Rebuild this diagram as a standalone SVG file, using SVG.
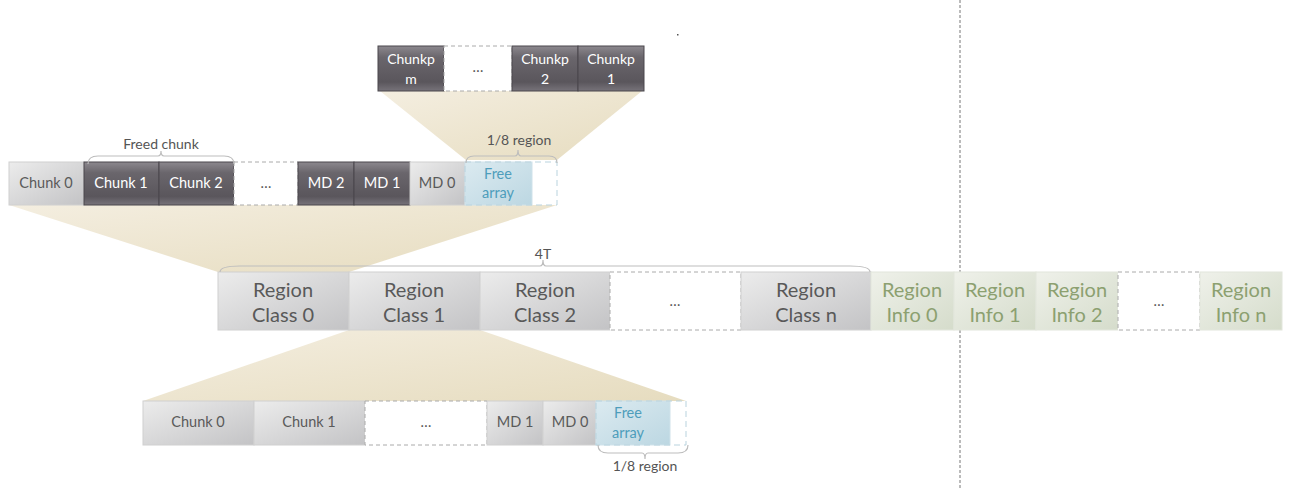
<svg xmlns="http://www.w3.org/2000/svg" width="1305" height="489" viewBox="0 0 1305 489">
<defs>
<linearGradient id="dark" x1="0" y1="0" x2="0" y2="1">
<stop offset="0" stop-color="#8c888e"/><stop offset="0.25" stop-color="#6a666c"/><stop offset="0.8" stop-color="#5a565c"/><stop offset="1" stop-color="#77737a"/>
</linearGradient>
<linearGradient id="light" x1="0" y1="0" x2="1" y2="1">
<stop offset="0" stop-color="#ececec"/><stop offset="1" stop-color="#c3c3c5"/>
</linearGradient>
<linearGradient id="green" x1="0" y1="0" x2="1" y2="1">
<stop offset="0" stop-color="#eff1ea"/><stop offset="1" stop-color="#d5dccb"/>
</linearGradient>
<linearGradient id="blue" x1="0" y1="0" x2="1" y2="1">
<stop offset="0" stop-color="#dbeaf0"/><stop offset="1" stop-color="#bcd7e2"/>
</linearGradient>
<linearGradient id="funnel" x1="0" y1="0" x2="1" y2="1">
<stop offset="0" stop-color="#f4eee0"/><stop offset="1" stop-color="#e6dcbf"/>
</linearGradient>
<style>
text{font-family:Lato,"Open Sans","Liberation Sans",sans-serif;text-anchor:middle}
.d{fill:url(#dark);stroke:#4a474c;stroke-width:1}
.l{fill:url(#light);stroke:#d0d0d0;stroke-width:1}
.g{fill:url(#green);stroke:#e2e6dc;stroke-width:1}
.b{fill:url(#blue);stroke:#cfe2ea;stroke-width:1}
.e{fill:#fff;stroke:#aaaaaa;stroke-width:1;stroke-dasharray:4 3}
.eb{fill:none;stroke:#b9d3de;stroke-width:1;stroke-dasharray:6 4}
.tw{fill:#ffffff;font-size:14px}
.tg{fill:#5a5a5a;font-size:14.5px}
.tb{fill:#4e9dbb;font-size:14.5px}
.big{fill:#595959;font-size:20px}
.bigg{fill:#8ca070;font-size:20px}
.lab{fill:#555555;font-size:14px}
.br{fill:none;stroke:#bdbdbd;stroke-width:1.2}
.fun{fill:url(#funnel)}
</style>
</defs>

<g id="funnels">
<polygon class="fun" points="380,91 642,91 557,160 466,160"/>
<polygon class="fun" points="9,205 557,205 349,272 218,272"/>
<polygon class="fun" points="349,330 480,330 686,401 143,401"/>
</g>

<line x1="960" y1="0" x2="960" y2="489" stroke="#777" stroke-width="1" stroke-dasharray="3 2"/>
<rect x="677" y="34" width="1.5" height="1.5" fill="#555"/>

<g id="top-row">
<g id="chunkp-m"><rect class="d" x="378" y="46" width="66" height="45"/><text class="tw" x="411" y="64">Chunkp</text><text class="tw" x="411" y="84">m</text></g>
<g id="top-dots"><rect class="e" x="444" y="46" width="68" height="45"/><text class="tg" x="478" y="72">…</text></g>
<g id="chunkp-2"><rect class="d" x="512" y="46" width="66" height="45"/><text class="tw" x="545" y="64">Chunkp</text><text class="tw" x="545" y="84">2</text></g>
<g id="chunkp-1"><rect class="d" x="578" y="46" width="66" height="45"/><text class="tw" x="611" y="64">Chunkp</text><text class="tw" x="611" y="84">1</text></g>
</g>

<g id="mid-row">
<g id="r2-chunk0"><rect class="l" x="9" y="162" width="75" height="43"/><text class="tg" x="46" y="188">Chunk 0</text></g>
<g id="r2-chunk1"><rect class="d" x="84" y="162" width="75" height="43"/><text class="tw" x="121" y="188" style="font-size:14.5px">Chunk 1</text></g>
<g id="r2-chunk2"><rect class="d" x="159" y="162" width="75" height="43"/><text class="tw" x="196" y="188" style="font-size:14.5px">Chunk 2</text></g>
<g id="r2-dots"><rect class="e" x="234" y="162" width="64" height="43"/><text class="tg" x="266" y="188">…</text></g>
<g id="r2-md2"><rect class="d" x="298" y="162" width="56" height="43"/><text class="tw" x="326" y="188" style="font-size:14.5px">MD 2</text></g>
<g id="r2-md1"><rect class="d" x="354" y="162" width="56" height="43"/><text class="tw" x="382" y="188" style="font-size:14.5px">MD 1</text></g>
<g id="r2-md0"><rect class="l" x="410" y="162" width="55" height="43"/><text class="tg" x="437" y="188">MD 0</text></g>
<g id="r2-free"><rect class="b" x="465" y="162" width="67" height="43"/><rect class="eb" x="465" y="162" width="92" height="43"/><text class="tb" x="498" y="179">Free</text><text class="tb" x="498" y="198">array</text></g>
</g>

<g id="main-row">
<g id="rc0"><rect class="l" x="218" y="272" width="131" height="58"/><text class="big" x="283" y="297">Region</text><text class="big" x="283" y="322">Class 0</text></g>
<g id="rc1"><rect class="l" x="349" y="272" width="131" height="58"/><text class="big" x="414" y="297">Region</text><text class="big" x="414" y="322">Class 1</text></g>
<g id="rc2"><rect class="l" x="480" y="272" width="130" height="58"/><text class="big" x="545" y="297">Region</text><text class="big" x="545" y="322">Class 2</text></g>
<g id="rc-dots"><rect class="e" x="610" y="272" width="131" height="58"/><text class="tg" x="675" y="306">…</text></g>
<g id="rcn"><rect class="l" x="741" y="272" width="130" height="58"/><text class="big" x="806" y="297">Region</text><text class="big" x="806" y="322">Class n</text></g>
<g id="ri0"><rect class="g" x="871" y="272" width="83" height="58"/><text class="bigg" x="912" y="297">Region</text><text class="bigg" x="912" y="322">Info 0</text></g>
<g id="ri1"><rect class="g" x="954" y="272" width="82" height="58"/><text class="bigg" x="995" y="297">Region</text><text class="bigg" x="995" y="322">Info 1</text></g>
<g id="ri2"><rect class="g" x="1036" y="272" width="82" height="58"/><text class="bigg" x="1077" y="297">Region</text><text class="bigg" x="1077" y="322">Info 2</text></g>
<g id="ri-dots"><rect class="e" x="1118" y="272" width="82" height="58"/><text class="tg" x="1159" y="306">…</text></g>
<g id="rin"><rect class="g" x="1200" y="272" width="82" height="58"/><text class="bigg" x="1241" y="297">Region</text><text class="bigg" x="1241" y="322">Info n</text></g>
</g>

<g id="bottom-row">
<g id="b-chunk0"><rect class="l" x="143" y="401" width="111" height="44"/><text class="tg" x="198" y="427">Chunk 0</text></g>
<g id="b-chunk1"><rect class="l" x="254" y="401" width="111" height="44"/><text class="tg" x="309" y="427">Chunk 1</text></g>
<g id="b-dots"><rect class="e" x="365" y="401" width="122" height="44"/><text class="tg" x="426" y="427">…</text></g>
<g id="b-md1"><rect class="l" x="487" y="401" width="56" height="44"/><text class="tg" x="515" y="427">MD 1</text></g>
<g id="b-md0"><rect class="l" x="543" y="401" width="53" height="44"/><text class="tg" x="570" y="427">MD 0</text></g>
<g id="b-free"><rect class="b" x="596" y="401" width="74" height="44"/><rect class="eb" x="596" y="401" width="90" height="44"/><text class="tb" x="628" y="418">Free</text><text class="tb" x="628" y="438">array</text></g>
</g>

<g id="braces">
<path class="br" d="M88,164 Q88,156 98,156 L158,156 Q161,156 161,151 Q161,156 164,156 L224,156 Q234,156 234,164"/>
<text class="lab" x="161" y="149">Freed chunk</text>
<path class="br" d="M466,163 Q466,156 474,156 L515,156 Q518,156 518,150 Q518,156 521,156 L549,156 Q557,156 557,163"/>
<text class="lab" x="519" y="145">1/8 region</text>
<path class="br" d="M220,272 Q220,266 240,266 L540,266 Q543,266 543,260 Q543,266 546,266 L850,266 Q870,266 870,272"/>
<text class="lab" x="543" y="259">4T</text>
<path class="br" d="M598,445 Q598,453 608,453 L642,453 Q645,453 645,459 Q645,453 648,453 L678,453 Q688,453 688,445"/>
<text class="lab" x="645" y="471">1/8 region</text>
</g>
</svg>
